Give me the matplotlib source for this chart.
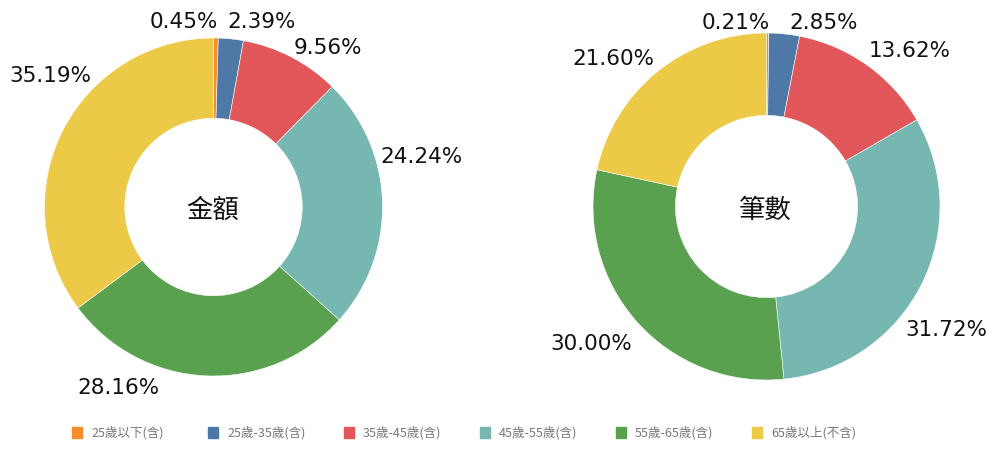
import matplotlib.pyplot as plt
from matplotlib.patches import Rectangle

plt.rcParams['font.family'] = ['DejaVu Sans', 'Noto Sans CJK TC']

# age groups and shares (%)
groups = ['25歲以下(含)', '25歲-35歲(含)', '35歲-45歲(含)',
          '45歲-55歲(含)', '55歲-65歲(含)', '65歲以上(不含)']
amount_pct = [0.45, 2.39, 9.56, 24.24, 28.16, 35.19]
count_pct = [0.21, 2.85, 13.62, 31.72, 30.00, 21.60]
titles = ['金額', '筆數']

colors = ['#F28E2B', '#4E79A7', '#E15759', '#76B7B2', '#59A14F', '#EDC948']

W, H = 1000, 453
fig = plt.figure(figsize=(W / 100, H / 100), dpi=100)
ax = fig.add_axes([0, 0, 1, 1])
ax.set_xlim(0, W)
ax.set_ylim(0, H)
ax.axis('off')

# pie layout in pixels (x, y from top, radius)
pies = [(213.5, 207, 169), (766.5, 206.5, 173.5)]
# label anchor (x, baseline y from top) per slice
label_pos = [
    [(183.5, 28), (262, 28), (327.5, 54), (422, 163), (118, 394), (50, 82)],
    [(736, 29), (823.5, 29), (910, 57), (946.5, 336), (591, 350), (613.5, 65)],
]

for k, vals in enumerate([amount_pct, count_pct]):
    cx, cy, r = pies[k]
    wedges, _ = ax.pie(vals, colors=colors, startangle=90, counterclock=False,
                       center=(cx, H - cy), radius=r, frame=True,
                       wedgeprops=dict(width=r * 0.475, edgecolor='white', linewidth=0.4))
    for v, (lx, ly) in zip(vals, label_pos[k]):
        ax.text(lx, H - ly, f'{v:.2f}%', ha='center', va='baseline',
                fontsize=15.5, color='#111111')
    ax.text(cx - 1, H - 210, titles[k], ha='center', va='center', fontsize=19,
            family=['Noto Sans CJK TC'], color='#111111')

ax.set_xlim(0, W)
ax.set_ylim(0, H)
ax.set_aspect('auto')
ax.axis('off')

# legend row
for i, (g, c) in enumerate(zip(groups, colors)):
    x0 = 72 + i * 136
    ax.add_patch(Rectangle((x0, H - 438), 10, 11, color=c))
    ax.text(x0 + 19, H - 433, g, ha='left', va='center', fontsize=9,
            color='#777777', family=['Noto Sans CJK TC'])

fig.savefig('out.png', dpi=100)
